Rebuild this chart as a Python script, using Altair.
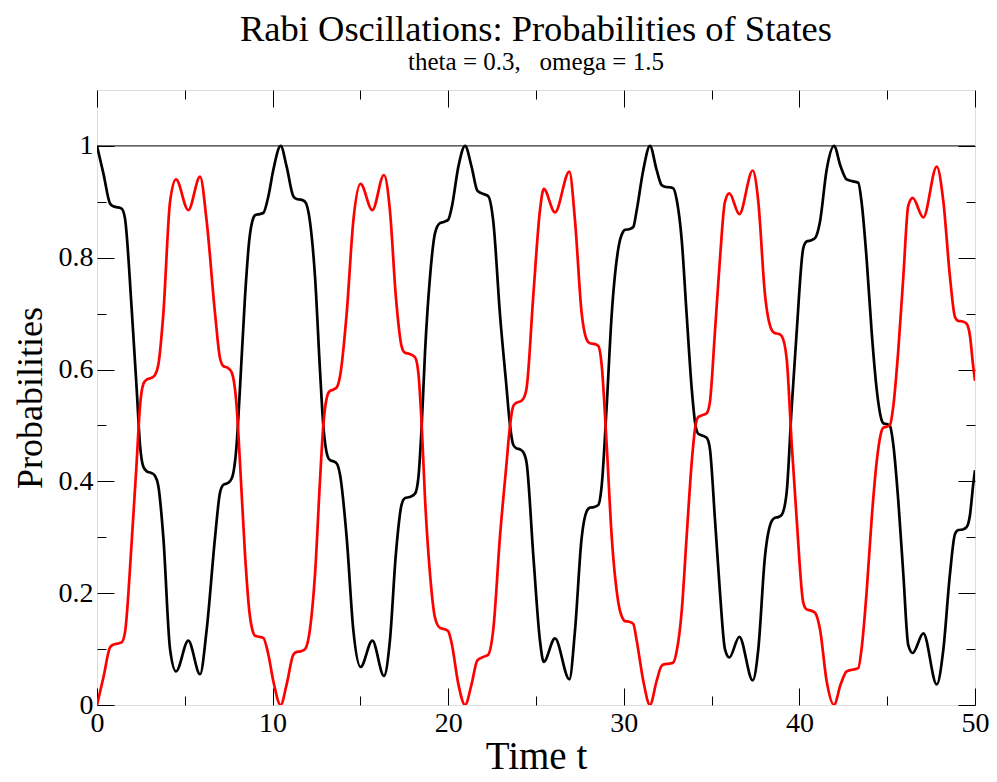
import altair as alt
import pandas as pd

# ---- data ----
t = [0.0, 0.37, 0.74, 0.93, 1.2, 1.4, 1.59, 1.97, 2.26, 2.45, 2.64, 2.83, 3.1, 3.3, 3.49, 3.78, 4.16, 4.5, 5.2, 5.87,
     6.24, 6.72, 7.0, 7.2, 7.45, 7.67, 7.95, 8.14, 8.43, 8.67, 8.9, 9.0, 9.25, 9.47, 9.76, 10.04, 10.46, 10.8, 11.18, 11.37,
     11.6, 11.85, 12.13, 12.42, 12.7, 12.89, 13.12, 13.27, 13.45, 13.65, 13.84, 14.22, 14.6, 15.01, 15.68, 16.34, 16.68, 17.02, 17.35, 17.54,
     17.8, 18.11, 18.3, 18.49, 18.68, 18.96, 19.25, 19.53, 19.75, 20.0, 20.2, 20.58, 20.96, 21.33, 21.66, 22.0, 22.28, 22.57, 22.95, 23.33,
     23.48, 23.71, 23.9, 24.1, 24.28, 24.47, 24.85, 25.23, 25.44, 26.08, 26.9, 27.22, 27.6, 27.88, 28.07, 28.3, 28.55, 28.74, 29.02, 29.31,
     29.69, 29.97, 30.07, 30.3, 30.54, 30.73, 31.11, 31.49, 31.87, 32.15, 32.34, 32.6, 32.82, 33.01, 33.3, 33.58, 33.87, 34.06, 34.24, 34.45,
     34.72, 34.9, 35.19, 35.48, 35.76, 36.01, 36.58, 37.34, 37.66, 38.04, 38.42, 38.61, 38.8, 38.99, 39.27, 39.56, 39.84, 40.22, 40.41, 40.65,
     40.89, 41.17, 41.55, 41.97, 42.35, 42.69, 43.0, 43.35, 43.55, 43.83, 44.12, 44.4, 44.69, 44.78, 45.0, 45.16, 45.35, 45.63, 45.92, 46.2,
     46.45, 47.06, 47.82, 48.2, 48.57, 48.86, 49.05, 49.3, 49.52, 49.71, 49.9, 50.0]

black = [1.0, 0.95, 0.897, 0.892, 0.890, 0.888, 0.871, 0.711, 0.565, 0.465, 0.426, 0.418, 0.415, 0.410, 0.392, 0.299, 0.100, 0.060, 0.115, 0.055,
         0.133, 0.299, 0.379, 0.394, 0.397, 0.405, 0.465, 0.565, 0.731, 0.831, 0.871, 0.876, 0.878, 0.880, 0.910, 0.957, 1.0, 0.963, 0.910, 0.905,
         0.904, 0.900, 0.864, 0.764, 0.598, 0.499, 0.446, 0.438, 0.436, 0.432, 0.412, 0.299, 0.133, 0.068, 0.115, 0.052, 0.115, 0.27, 0.359, 0.370,
         0.372, 0.378, 0.406, 0.499, 0.631, 0.764, 0.844, 0.862, 0.864, 0.868, 0.890, 0.963, 1.0, 0.963, 0.920, 0.914, 0.910, 0.864, 0.698, 0.565,
         0.512, 0.465, 0.459, 0.457, 0.452, 0.432, 0.266, 0.114, 0.077, 0.119, 0.046, 0.133, 0.299, 0.346, 0.353, 0.354, 0.358, 0.392, 0.532, 0.698,
         0.817, 0.847, 0.850, 0.851, 0.855, 0.884, 0.957, 1.0, 0.957, 0.930, 0.927, 0.926, 0.924, 0.904, 0.831, 0.698, 0.565, 0.505, 0.485, 0.482,
         0.478, 0.459, 0.333, 0.200, 0.100, 0.085, 0.122, 0.044, 0.100, 0.266, 0.329, 0.335, 0.336, 0.340, 0.379, 0.532, 0.665, 0.817, 0.829, 0.831,
         0.835, 0.864, 0.957, 1.0, 0.963, 0.940, 0.937, 0.934, 0.897, 0.797, 0.665, 0.565, 0.509, 0.504, 0.502, 0.499, 0.465, 0.366, 0.233, 0.107,
         0.093, 0.128, 0.037, 0.100, 0.233, 0.306, 0.313, 0.314, 0.318, 0.339, 0.395, 0.42]

red = [0.0, 0.05, 0.103, 0.108, 0.110, 0.112, 0.129, 0.289, 0.435, 0.535, 0.574, 0.582, 0.585, 0.590, 0.608, 0.701, 0.900, 0.940, 0.885, 0.945,
       0.867, 0.701, 0.621, 0.606, 0.603, 0.595, 0.535, 0.435, 0.269, 0.169, 0.129, 0.124, 0.122, 0.120, 0.090, 0.043, 0.0, 0.037, 0.090, 0.095,
       0.096, 0.100, 0.136, 0.236, 0.402, 0.501, 0.554, 0.562, 0.564, 0.568, 0.588, 0.701, 0.867, 0.932, 0.885, 0.948, 0.885, 0.73, 0.641, 0.630,
       0.628, 0.622, 0.594, 0.501, 0.369, 0.236, 0.156, 0.138, 0.136, 0.132, 0.110, 0.037, 0.0, 0.037, 0.080, 0.086, 0.090, 0.136, 0.302, 0.435,
       0.488, 0.535, 0.541, 0.543, 0.548, 0.568, 0.734, 0.886, 0.923, 0.881, 0.954, 0.867, 0.701, 0.654, 0.647, 0.646, 0.642, 0.608, 0.468, 0.302,
       0.183, 0.153, 0.150, 0.149, 0.145, 0.116, 0.043, 0.0, 0.043, 0.070, 0.073, 0.074, 0.076, 0.096, 0.169, 0.302, 0.435, 0.495, 0.515, 0.518,
       0.522, 0.541, 0.667, 0.800, 0.900, 0.915, 0.878, 0.956, 0.900, 0.734, 0.671, 0.665, 0.664, 0.660, 0.621, 0.468, 0.335, 0.183, 0.171, 0.169,
       0.165, 0.136, 0.043, 0.0, 0.037, 0.060, 0.063, 0.066, 0.103, 0.203, 0.335, 0.435, 0.491, 0.496, 0.498, 0.501, 0.535, 0.634, 0.767, 0.893,
       0.907, 0.872, 0.963, 0.900, 0.767, 0.694, 0.687, 0.686, 0.682, 0.661, 0.605, 0.58]

x_major = [0, 10, 20, 30, 40, 50]
x_minor = [5, 15, 25, 35, 45]
y_major = [0, 0.2, 0.4, 0.6, 0.8, 1.0]
y_minor = [0.1, 0.3, 0.5, 0.7, 0.9]
ref_level = [1.0]

W, H = 878, 615
FONT = "Liberation Serif"

df_b = pd.DataFrame({"t": t, "p": black})
df_r = pd.DataFrame({"t": t, "p": red})
df_one = pd.DataFrame({"p": ref_level})

xs = alt.Scale(domain=[0, 50], nice=False, zero=False)
ys = alt.Scale(domain=[0, 1.1], nice=False, zero=False)


def tick_axis(orient, values, size, offset):
    return alt.Axis(orient=orient, values=values, tickSize=size, offset=offset,
                    labels=False, domain=False, grid=False, title=None,
                    ticks=True, tickColor="black", tickWidth=1)


A = alt.Chart(df_b).mark_line(color="black", strokeWidth=2.7, interpolate="monotone", clip=True).encode(
    x=alt.X("t:Q", scale=xs, axis=alt.Axis(
        orient="bottom", values=x_major, ticks=False, tickSize=0, domain=False, grid=False,
        title="Time t", labelFontSize=28, titleFontSize=39, labelPadding=4, titlePadding=0,
        labelColor="black", titleColor="black", titleFontWeight="normal", labelFlush=False,
        labelFont=FONT, titleFont=FONT, format="d")),
    y=alt.Y("p:Q", scale=ys, axis=alt.Axis(
        orient="left", values=y_major, ticks=False, tickSize=0, domain=False, grid=False,
        title="Probabilities", labelFontSize=28, titleFontSize=36, labelPadding=4, titlePadding=9,
        labelColor="black", titleColor="black", titleFontWeight="normal",
        labelFont=FONT, titleFont=FONT, format="~g")),
)

B = alt.Chart(df_r).mark_line(color="#ff0000", strokeWidth=2.7, interpolate="monotone", clip=True).encode(
    x=alt.X("t:Q", scale=xs, axis=tick_axis("top", x_major, 17, -H)),
    y=alt.Y("p:Q", scale=ys, axis=tick_axis("right", y_major, 17, -W)),
)

C = alt.Chart(df_b).mark_line(opacity=0).encode(
    x=alt.X("t:Q", scale=xs, axis=tick_axis("top", x_minor, 9, -H)),
    y=alt.Y("p:Q", scale=ys, axis=tick_axis("right", y_minor, 9, -W)),
)

D = alt.Chart(df_b).mark_line(opacity=0).encode(
    x=alt.X("t:Q", scale=xs, axis=tick_axis("bottom", x_major, 17, -H)),
    y=alt.Y("p:Q", scale=ys, axis=tick_axis("left", y_major, 17, -W)),
)

E = alt.Chart(df_b).mark_line(opacity=0).encode(
    x=alt.X("t:Q", scale=xs, axis=tick_axis("bottom", x_minor, 9, -H)),
    y=alt.Y("p:Q", scale=ys, axis=tick_axis("left", y_minor, 9, -W)),
)

F = alt.Chart(df_one).mark_rule(color="black", strokeWidth=1).encode(
    y=alt.Y("p:Q", scale=ys, axis=None),
)

chart = alt.layer(A, B, C, D, E, F).resolve_axis(
    x="independent", y="independent"
).properties(
    width=W, height=H,
    title=alt.TitleParams(
        text="Rabi Oscillations: Probabilities of States",
        subtitle="theta = 0.3,\u00a0\u00a0\u00a0omega = 1.5",
        font=FONT, subtitleFont=FONT, fontSize=36.5, subtitleFontSize=25,
        fontWeight="normal", color="black", subtitleColor="black",
        anchor="middle", frame="group", offset=15, subtitlePadding=1,
    ),
    autosize=alt.AutoSizeParams(type="none"),
    padding={"left": 89, "top": 82, "right": 14, "bottom": 70},
).configure_view(
    stroke="black", strokeWidth=1.5
).configure(font=FONT)

chart.save("out.html", embed_options={"renderer": "svg", "actions": False})
